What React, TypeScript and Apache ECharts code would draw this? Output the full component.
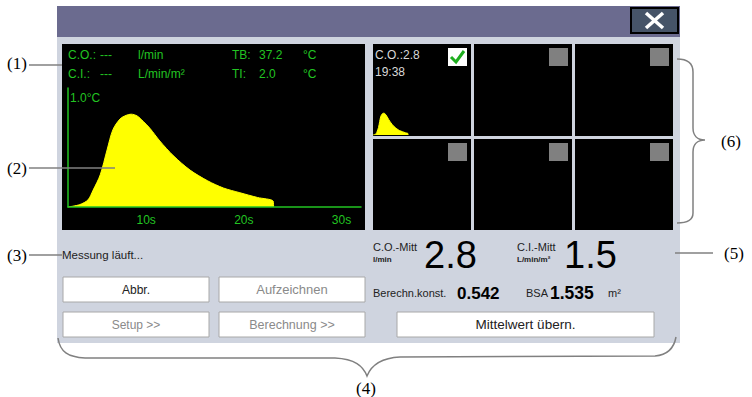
import React, { useEffect, useRef } from "react";
import * as echarts from "echarts";

// ---- data ----
const curveTime = [2, 3.2, 4.05, 4.56, 5.3, 6.0, 6.6, 7.33, 7.95, 8.46, 9.08, 9.7, 10.4, 11.4, 12.8, 14.5, 16.3, 17.9, 19.6, 21.4, 23.0, 23.05];
const curveTemp = [0, 0.02, 0.06, 0.14, 0.27, 0.48, 0.65, 0.74, 0.77, 0.78, 0.765, 0.72, 0.66, 0.555, 0.43, 0.31, 0.22, 0.16, 0.12, 0.08, 0.05, 0];
const xTickValues = [10, 20, 30];
const yTickLabel = ["1.0°C"];
const headerRow1 = ["C.O.:", "---", "l/min", "TB:", "37.2", "°C"];
const headerRow2 = ["C.I.:", "---", "L/min/m²", "TI:", "2.0", "°C"];
const tileLabels = ["C.O.:2.8", "19:38"];
const statusText = "Messung läuft...";
const buttonLabels = ["Abbr.", "Aufzeichnen", "Setup >>", "Berechnung >>"];
const coMean = "2.8";
const ciMean = "1.5";
const calcConst = "0.542";
const bsa = "1.535";
const annotations = ["(1)", "(2)", "(3)", "(4)", "(5)", "(6)"];

const SANS = '"Liberation Sans", Arial, sans-serif';
const SERIF = '"Liberation Serif", "Times New Roman", serif';
const GREEN = "#22c422";

let registered = false;
function registerShapes() {
  if (registered) return;
  registered = true;
  echarts.graphic.registerShape(
    "brace6",
    echarts.graphic.extendPath(
      "M677,59 C688,59 693,64 693,72 L693,128 C693,135 697,140 705,140 C697,140 693,145 693,152 L693,213 C693,219 688,223 677,223",
      {}
    )
  );
  echarts.graphic.registerShape(
    "brace4",
    echarts.graphic.extendPath(
      "M58,338 C60,352 68,357 85,358 L335,358 C355,359 363,366 367,376 C371,366 380,358 400,357 L655,356 C668,355 674,348 676,337",
      {}
    )
  );
}

function txt(x: number, y: number, text: string, o: any = {}) {
  return {
    type: "text",
    x,
    y,
    z: 100,
    style: {
      text,
      fill: o.fill || "#222",
      font: o.font || `12px ${SANS}`,
      align: o.align || "left",
      verticalAlign: o.va || "middle",
    },
  };
}
function rect(x: number, y: number, w: number, h: number, fill: string, o: any = {}) {
  return {
    type: "rect",
    z: o.z ?? 0,
    shape: { x, y, width: w, height: h },
    style: { fill, stroke: o.stroke || null, lineWidth: o.lw || 0 },
  };
}
function line(x1: number, y1: number, x2: number, y2: number, stroke: string, lw: number, z = 100) {
  return { type: "line", z, shape: { x1, y1, x2, y2 }, style: { stroke, lineWidth: lw } };
}

export default function App() {
  const ref = useRef<HTMLDivElement>(null);
  useEffect(() => {
    if (!ref.current) return;
    registerShapes();
    const chart = echarts.init(ref.current, null, { renderer: "svg" });
    const data = curveTime.map((t, i) => [t, curveTemp[i]]);

    const g: any[] = [];
    // window frame
    g.push(rect(57, 6, 623, 31, "#6b6b8f"));
    g.push(rect(57, 37, 623, 306, "#cfd4df"));
    // close button
    g.push(rect(631, 8, 47, 25, "#465468", { stroke: "#000", lw: 2 }));
    g.push(line(646, 13, 663, 28, "#fff", 3.5));
    g.push(line(663, 13, 646, 28, "#fff", 3.5));
    // main graph background
    g.push(rect(62, 44, 303, 186, "#000"));
    // tiles
    const tx = [373, 474, 575];
    const ty = [44, 139];
    ty.forEach((y, r) =>
      tx.forEach((x, c) => {
        g.push(rect(x, y, 98, r === 0 ? 92 : 91, "#000"));
        if (r === 0 && c === 0) {
          g.push(rect(448, 48, 19, 18, "#fff", { z: 50 }));
          g.push({ type: "polyline", z: 60, shape: { points: [[451, 57], [456, 62], [464, 51]] }, style: { stroke: "#1fae1f", lineWidth: 3, fill: null } });
        } else {
          g.push(rect(x + 75, y + 4, 19, 18, "#808080", { z: 50 }));
        }
      })
    );
    g.push(txt(375, 55, tileLabels[0], { fill: "#d8d8d8" }));
    g.push(txt(375, 72, tileLabels[1], { fill: "#d8d8d8" }));
    // header texts
    const hx = [68, 100, 138, 232, 259, 303];
    headerRow1.forEach((t, i) => g.push(txt(hx[i], 55, t, { fill: GREEN })));
    headerRow2.forEach((t, i) => g.push(txt(hx[i], 74, t, { fill: GREEN })));
    g.push(txt(70, 98, yTickLabel[0], { fill: GREEN }));
    // status & buttons
    g.push(txt(62, 255, statusText, { font: `11.5px ${SANS}` }));
    const bx = [63, 219];
    const by = [277, 312];
    const bSizes = [12, 13, 12, 12.5];
    buttonLabels.forEach((b, i) => {
      const x = bx[i % 2];
      const y = by[Math.floor(i / 2)];
      g.push(rect(x, y, 146, 25, "#fff", { stroke: "#a8a8a8", lw: 1, z: 10 }));
      g.push(txt(x + 73, y + 12.5, b, { align: "center", fill: i === 0 ? "#222" : "#8a8a8a", font: `${bSizes[i]}px ${SANS}` }));
    });
    g.push(rect(397, 312, 257, 25, "#fff", { stroke: "#a8a8a8", lw: 1, z: 10 }));
    g.push(txt(525.5, 324.5, "Mittelwert übern.", { align: "center", font: `13.5px ${SANS}` }));
    // result values
    const sf = `11px ${SANS}`;
    g.push(txt(373, 247, "C.O.-Mitt", { font: sf }));
    g.push(txt(373, 259, "l/min", { font: `bold 8px ${SANS}` }));
    g.push(txt(424, 255, coMean, { font: `38px ${SANS}`, fill: "#000" }));
    g.push(txt(517, 247, "C.I.-Mitt", { font: sf }));
    g.push(txt(517, 259, "L/min/m²", { font: `bold 8px ${SANS}` }));
    g.push(txt(564, 255, ciMean, { font: `38px ${SANS}`, fill: "#000" }));
    g.push(txt(373, 293, "Berechn.konst.", { font: sf }));
    g.push(txt(457, 293, calcConst, { font: `bold 17px ${SANS}`, fill: "#000" }));
    g.push(txt(526, 293, "BSA", { font: sf }));
    g.push(txt(550, 293, bsa, { font: `bold 17.5px ${SANS}`, fill: "#000" }));
    g.push(txt(608, 293, "m²", { font: `11px ${SANS}` }));
    // annotations
    const af = `17px ${SERIF}`;
    g.push(txt(17, 63, annotations[0], { font: af, align: "center", fill: "#000" }));
    g.push(line(29, 65, 62, 65, "#808080", 1.5));
    g.push(txt(17, 168, annotations[1], { font: af, align: "center", fill: "#000" }));
    g.push(line(29, 168, 115, 168, "#808080", 1.5));
    g.push(txt(17, 255, annotations[2], { font: af, align: "center", fill: "#000" }));
    g.push(line(29, 255, 62, 255, "#808080", 1.5));
    g.push(txt(366, 388, annotations[3], { font: af, align: "center", fill: "#000" }));
    g.push(txt(734, 253, annotations[4], { font: af, align: "center", fill: "#000" }));
    g.push(line(675, 253, 713, 253, "#808080", 1.5));
    g.push(txt(731, 141, annotations[5], { font: af, align: "center", fill: "#000" }));
    g.push({ type: "brace6", z: 100, style: { fill: null, stroke: "#808080", lineWidth: 1.5 } });
    g.push({ type: "brace4", z: 100, style: { fill: null, stroke: "#808080", lineWidth: 1.5 } });

    chart.setOption({
      animation: false,
      backgroundColor: "#fff",
      graphic: { elements: g },
      grid: [
        { left: 68, top: 88, width: 293, height: 119 },
        { left: 373, top: 107, width: 50, height: 28 },
      ],
      xAxis: [
        {
          type: "value",
          gridIndex: 0,
          min: 2,
          max: 32,
          z: 5,
          axisLine: { show: true, lineStyle: { color: GREEN, width: 1.5 } },
          axisTick: { show: false },
          splitLine: { show: false },
          axisLabel: {
            customValues: xTickValues,
            formatter: (v: number) => `${v}s`,
            color: GREEN,
            fontSize: 12,
            fontFamily: SANS,
            margin: 7,
          },
        },
        { type: "value", gridIndex: 1, min: 2, max: 32, show: false },
      ],
      yAxis: [
        {
          type: "value",
          gridIndex: 0,
          min: 0,
          max: 1,
          z: 5,
          axisLine: { show: true, lineStyle: { color: GREEN, width: 1.5 } },
          axisTick: { show: false },
          axisLabel: { show: false },
          splitLine: { show: false },
        },
        { type: "value", gridIndex: 1, min: 0, max: 1, show: false },
      ],
      series: [
        {
          type: "line",
          xAxisIndex: 0,
          yAxisIndex: 0,
          data,
          smooth: 0.3,
          showSymbol: false,
          lineStyle: { color: "#ffff00", width: 1 },
          areaStyle: { color: "#ffff00", opacity: 1 },
          z: 3,
        },
        {
          type: "line",
          xAxisIndex: 1,
          yAxisIndex: 1,
          data,
          smooth: 0.3,
          showSymbol: false,
          lineStyle: { color: "#ffff00", width: 1 },
          areaStyle: { color: "#ffff00", opacity: 1 },
          z: 3,
        },
      ],
    });
    return () => chart.dispose();
  }, []);
  return <div ref={ref} style={{ position: "absolute", left: 0, top: 0, width: 752, height: 397 }} />;
}
